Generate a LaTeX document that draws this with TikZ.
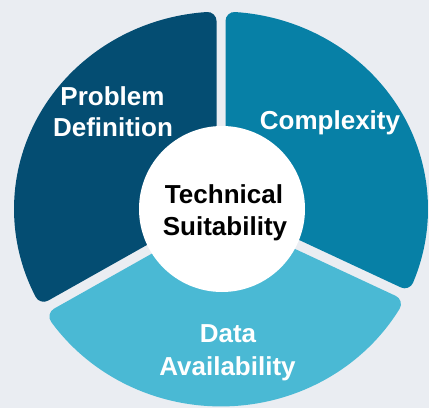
\documentclass[tikz,border=0pt]{standalone}
\usepackage{fontspec}
\setmainfont{Liberation Sans}
\usetikzlibrary{calc}
\definecolor{bgc}{HTML}{EAEDF2}
\definecolor{navy}{HTML}{044D72}
\definecolor{tealc}{HTML}{0780A6}
\definecolor{lightc}{HTML}{4AB9D4}
\tikzset{
  segfill/.style={fill=#1, draw=#1, line width=18pt, line join=round},
  lbl/.style={text=white, font=\fontsize{26}{31}\selectfont\bfseries, anchor=base, inner sep=0pt},
  clbl/.style={text=black, font=\fontsize{26}{31}\selectfont\bfseries, anchor=base, inner sep=0pt}
}
\begin{document}
\begin{tikzpicture}[x=1pt,y=1pt]
\useasboundingbox (0,0) rectangle (429,408);
\fill[bgc] (0,0) rectangle (429,408);
\begin{scope}[shift={(221,199)}, yscale=0.9517]
  % Complexity (teal): right gap -26.1 to top gap 90
  \path[segfill=tealc] ($(-26.1:20)+(63.9:14.5)$) -- (-21.9:198)
     arc[start angle=-21.9, end angle=86.09, radius=198]
     -- ($(90:20)+(0:13.5)$) -- cycle;
  % Problem Definition (navy): 90 to 210.6
  \path[segfill=navy] ($(90:20)+(180:13.5)$) -- (93.91:198)
     arc[start angle=93.91, end angle=206.4, radius=198]
     -- ($(210.6:20)+(120.6:14.5)$) -- cycle;
  % Data Availability (light): 210.6 to 333.9
  \path[segfill=lightc] ($(210.6:20)+(300.6:14.5)$) -- (214.8:198)
     arc[start angle=214.8, end angle=329.7, radius=198]
     -- ($(333.9:20)+(243.9:14.5)$) -- cycle;
\end{scope}
\node[circle, fill=white, minimum size=166pt, inner sep=0pt] (hub) at (222,199) {};
\node[lbl] (prob) at (112.5,302) {Problem};
\node[lbl] (defn) at (113,271) {Definition};
\node[lbl] (cplx) at (330,278) {Complexity};
\node[clbl] (tech) at (224,205) {Technical};
\node[clbl] (suit) at (225,173) {Suitability};
\node[lbl] (data) at (228,66) {Data};
\node[lbl] (avail) at (227.5,33) {Availability};
\end{tikzpicture}
\end{document}
